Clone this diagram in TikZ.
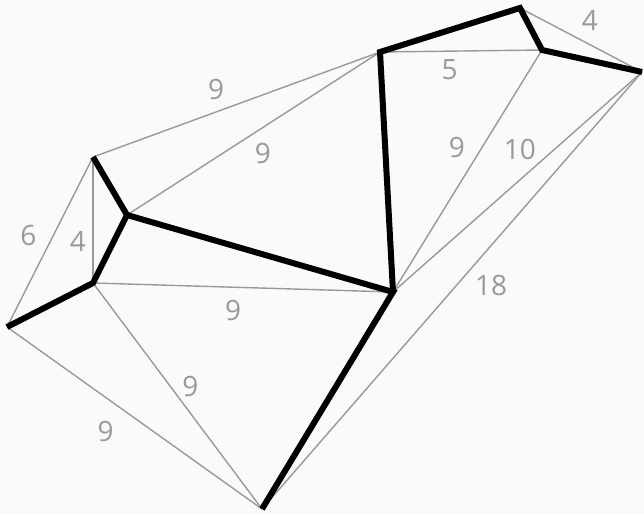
\documentclass[tikz,border=0pt]{standalone}
\usepackage{fontspec}
\setsansfont{Open Sans}
\usepackage{tikz}

\begin{document}
\begin{tikzpicture}[
  x=1pt, y=-1pt,
  every node/.style={font=\sffamily\fontsize{28}{30}\selectfont, inner sep=0pt},
  link/.style={draw=black!40, line width=1.4pt},
  mst/.style ={draw=black, line width=6pt},
  wt/.style  ={text=black!40}]

\useasboundingbox (0,0) rectangle (644,514);
\fill[black!2] (0,0) rectangle (644,514);

% vertices
\coordinate (a) at (93,157);
\coordinate (b) at (127,215);
\coordinate (c) at (93,283);
\coordinate (d) at (7,327);
\coordinate (e) at (262,509);
\coordinate (f) at (393,292);
\coordinate (g) at (380,52);
\coordinate (h) at (520,8);
\coordinate (i) at (542,50);
\coordinate (j) at (642,72);

% weighted edges
\draw[link] (a) -- node[wt, pos=.45, xshift=-6pt,  yshift=20pt]  {9}  (g);
\draw[link] (b) -- node[wt, pos=.49, xshift=12pt,  yshift=-18pt] {9}  (g);
\draw[link] (a) -- node[wt, pos=.52, xshift=-20pt, yshift=10pt]  {6}  (d);
\draw[link] (a) -- node[wt, pos=.67, xshift=-15pt]               {4}  (c);
\draw[link] (c) -- node[wt, pos=.47, xshift=-1pt,  yshift=-23pt] {9}  (f);
\draw[link] (c) -- node[wt, pos=.50, xshift=13pt,  yshift=10pt]  {9}  (e);
\draw[link] (d) -- node[wt, pos=.45, xshift=-16pt, yshift=-23pt] {9}  (e);
\draw[link] (e) -- node[wt, pos=.55, xshift=20pt,  yshift=-17pt] {18} (j);
\draw[link] (f) -- node[wt, pos=.55, xshift=-18pt, yshift=11pt]  {9}  (i);
\draw[link] (f) -- node[wt, pos=.57, xshift=-15pt, yshift=17pt]  {10} (j);
\draw[link] (g) -- node[wt, pos=.43, yshift=-19pt]               {5}  (i);
\draw[link] (h) -- node[wt, pos=.49, xshift=10pt,  yshift=19pt]  {4}  (j);

% spanning tree
\draw[mst] (d) -- (c) -- (b) -- (f) -- (e);
\draw[mst] (a) -- (b);
\draw[mst] (f) -- (g) -- (h) -- (i) -- (j);

\end{tikzpicture}
\end{document}
